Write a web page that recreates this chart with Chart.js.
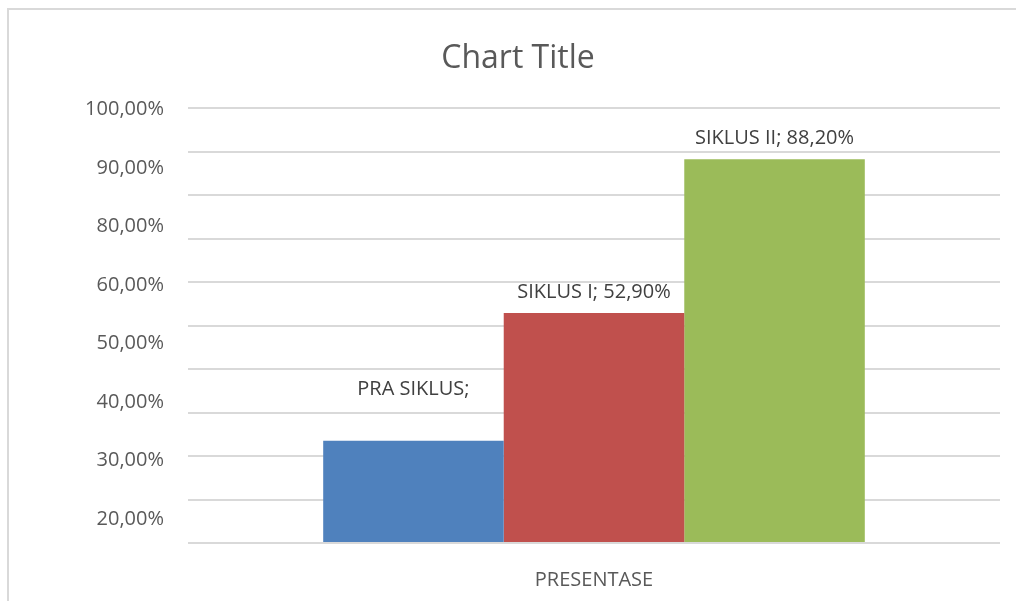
<!DOCTYPE html>
<html>
<head>
<meta charset="utf-8">
<script src="https://cdn.jsdelivr.net/npm/chart.js@4"></script>
<style>
  html, body { margin: 0; padding: 0; background: #fff; overflow: hidden; }
  #frame {
    position: absolute; left: 7px; top: 8px; width: 1100px; height: 700px;
    border-left: 2px solid #d9d9d9; border-top: 2px solid #d9d9d9;
  }
  #wrap { position: absolute; left: 0; top: 0; width: 1036px; height: 601px; }
</style>
</head>
<body>
<div id="frame"></div>
<div id="wrap"><canvas id="grafik"></canvas></div>
<script>
// data grafik
const kategori = ["PRESENTASE"];
const seriNama = ["PRA SIKLUS", "SIKLUS I", "SIKLUS II"];
const nilai = [23.5, 52.9, 88.2];
const labelData = [["PRA SIKLUS;", ""], ["SIKLUS I; 52,90%"], ["SIKLUS II; 88,20%"]];
const labelSumbuY = ["100,00%", "90,00%", "80,00%", "60,00%", "50,00%", "40,00%", "30,00%", "20,00%"];
const warna = ["#4f81bd", "#c0504d", "#9bbb59"];

const fontUtama = "'Open Sans', 'Noto Sans', sans-serif";

// tulis label di atas batang
const labelBatang = {
  id: "labelBatang",
  afterDatasetsDraw(chart) {
    const ctx = chart.ctx;
    ctx.save();
    ctx.font = "20px " + fontUtama;
    ctx.fillStyle = "#404040";
    ctx.textAlign = "center";
    ctx.textBaseline = "middle";
    chart.data.datasets.forEach(function (ds, i) {
      const bar = chart.getDatasetMeta(i).data[0];
      const baris = labelData[i];
      for (let k = 0; k < baris.length; k++) {
        const y = bar.y - 21 - (baris.length - 1 - k) * 30;
        ctx.fillText(baris[k], bar.x, y);
      }
    });
    ctx.restore();
  },
};

new Chart(document.getElementById("grafik"), {
  type: "bar",
  data: {
    labels: kategori,
    datasets: seriNama.map(function (nama, i) {
      return {
        label: nama,
        data: [nilai[i]],
        backgroundColor: warna[i],
        borderWidth: 0,
        yAxisID: "y",
      };
    }),
  },
  options: {
    responsive: true,
    maintainAspectRatio: false,
    animation: false,
    layout: { padding: { left: 36, right: 36, top: 0, bottom: 0 } },
    categoryPercentage: 0.667,
    barPercentage: 1,
    scales: {
      x: {
        grid: { display: false },
        border: { display: false },
        ticks: {
          color: "#595959",
          font: { family: fontUtama, size: 20 },
          padding: 17,
        },
        afterFit: function (s) { s.height = 58; },
      },
      y: {
        min: 0,
        max: 100,
        position: "left",
        ticks: { display: false, stepSize: 10 },
        grid: { color: "#d9d9d9", lineWidth: 2, drawTicks: false },
        border: { display: false },
        afterFit: function (s) { s.width = 0; },
      },
      yLabel: {
        type: "linear",
        position: "left",
        min: -0.41,
        max: 7.03,
        grid: { display: false },
        border: { display: false },
        ticks: {
          color: "#595959",
          font: { family: fontUtama, size: 20 },
          padding: 16,
          callback: function (value) {
            return labelSumbuY[labelSumbuY.length - 1 - value];
          },
        },
        afterBuildTicks: function (s) {
          s.ticks = labelSumbuY.map(function (_, i) { return { value: i }; });
        },
        afterFit: function (s) { s.width = 152; },
      },
    },
    plugins: {
      legend: { display: false },
      tooltip: { enabled: false },
      title: {
        display: true,
        text: "Chart Title",
        color: "#595959",
        font: { family: fontUtama, size: 32, weight: "normal" },
        padding: { top: 40, bottom: 29.6 },
      },
    },
  },
  plugins: [labelBatang],
});
</script>
</body>
</html>
